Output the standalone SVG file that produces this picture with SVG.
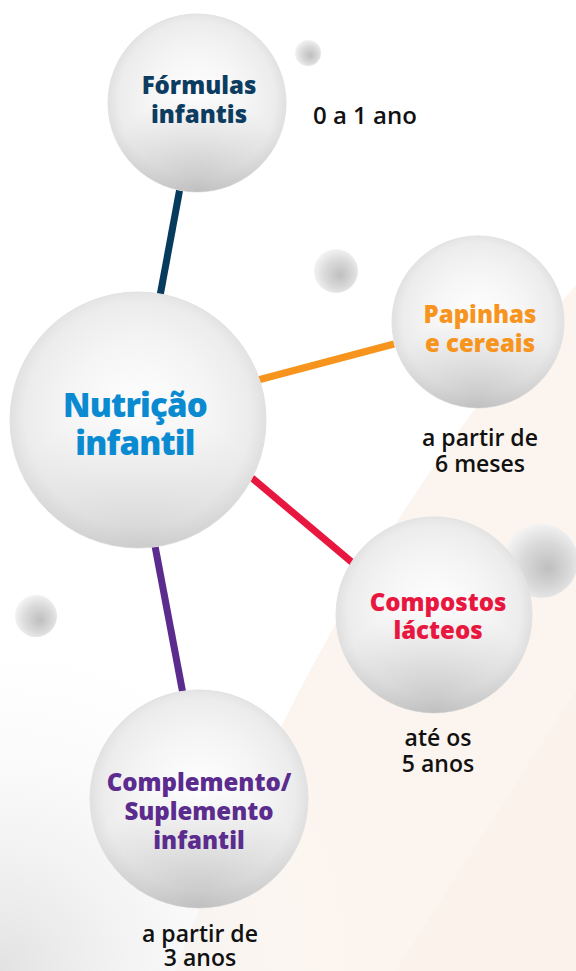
<svg xmlns="http://www.w3.org/2000/svg" width="576" height="971" viewBox="0 0 576 971">
  <defs>
    <radialGradient id="ball" cx="50%" cy="48%" r="55%">
      <stop offset="0" stop-color="#ffffff"/>
      <stop offset="0.5" stop-color="#f5f5f5"/>
      <stop offset="0.8" stop-color="#ececec"/>
      <stop offset="0.93" stop-color="#dedede"/>
      <stop offset="1" stop-color="#e4e4e4"/>
    </radialGradient>
    <radialGradient id="shade" cx="50%" cy="100%" r="55%">
      <stop offset="0" stop-color="#a8a8a8" stop-opacity="0.55"/>
      <stop offset="1" stop-color="#a8a8a8" stop-opacity="0"/>
    </radialGradient>
    <radialGradient id="small" cx="55%" cy="55%" r="55%" fx="60%" fy="60%">
      <stop offset="0" stop-color="#bfbfbf"/>
      <stop offset="0.6" stop-color="#dadada"/>
      <stop offset="1" stop-color="#f2f2f2"/>
    </radialGradient>
    <radialGradient id="corner" cx="0" cy="971" r="360" gradientUnits="userSpaceOnUse">
      <stop offset="0" stop-color="#e2e2e2"/>
      <stop offset="1" stop-color="#ffffff" stop-opacity="0"/>
    </radialGradient>
    <style>
      .sph { fill: url(#ball); stroke: #e2e2e2; stroke-width: 1; }
      .shd { fill: url(#shade); }
      .sm { fill: url(#small); }
      .lbl { font-family: "Open Sans", "Liberation Sans", sans-serif; font-weight: 800; font-size: 24px; text-anchor: middle; }
      .big { font-size: 33px; letter-spacing: -0.8px; }
      .age { font-family: "Open Sans", "Liberation Sans", sans-serif; font-weight: 600; font-size: 23px; fill: #111111; text-anchor: middle; }
      .con { fill: none; stroke-width: 7; stroke-linecap: butt; }
    </style>
  </defs>

  <!-- background -->
  <rect x="0" y="0" width="576" height="971" fill="#ffffff"/>
  <path d="M576,285 Q330,560 175,971 L576,971 Z" fill="#fcf5ef"/>
  <path d="M576,690 L395,971 L576,971 Z" fill="#fbf2eb"/>
  <rect x="0" y="560" width="576" height="411" fill="url(#corner)"/>

  <!-- connectors -->
  <g id="connectors">
    <line class="con" x1="180" y1="188" x2="160" y2="296" stroke="#073b5d"/>
    <line class="con" x1="258" y1="380" x2="394" y2="344" stroke="#f7941d"/>
    <line class="con" x1="252" y1="478" x2="354" y2="564" stroke="#e8173f"/>
    <line class="con" x1="155" y1="546" x2="183" y2="694" stroke="#5b2c8e"/>
  </g>

  <!-- decorative small spheres -->
  <circle class="sm" cx="308" cy="53" r="13"/>
  <circle class="sm" cx="336" cy="271" r="22"/>
  <circle class="sm" cx="36" cy="616" r="21"/>
  <circle class="sm" cx="541" cy="561" r="37"/>

  <g id="formulas">
    <circle class="sph" cx="197" cy="103" r="89"/>
    <circle class="shd" cx="197" cy="103" r="89"/>
    <text class="lbl" x="199" y="94" fill="#0d3c61">Fórmulas</text>
    <text class="lbl" x="199" y="123" fill="#0d3c61">infantis</text>
    <text class="age" x="313" y="124" style="text-anchor:start;font-size:24px">0 a 1 ano</text>
  </g>

  <g id="nutricao">
    <circle class="sph" cx="138" cy="420" r="128"/>
    <circle class="shd" cx="138" cy="420" r="128" opacity="0.6"/>
    <text class="lbl big" x="135" y="417" fill="#0a8bd1">Nutrição</text>
    <text class="lbl big" x="135" y="455" fill="#0a8bd1">infantil</text>
  </g>

  <g id="papinhas">
    <circle class="sph" cx="478" cy="322" r="86"/>
    <circle class="shd" cx="478" cy="322" r="86"/>
    <text class="lbl" x="480" y="323" fill="#f7941d">Papinhas</text>
    <text class="lbl" x="480" y="352" fill="#f7941d">e cereais</text>
    <text class="age" x="480" y="446">a partir de</text>
    <text class="age" x="480" y="472">6 meses</text>
  </g>

  <g id="compostos">
    <circle class="sph" cx="434" cy="615" r="98"/>
    <circle class="shd" cx="434" cy="615" r="98"/>
    <text class="lbl" x="438" y="611" fill="#e8173f">Compostos</text>
    <text class="lbl" x="438" y="639" fill="#e8173f">lácteos</text>
    <text class="age" x="438" y="746">até os</text>
    <text class="age" x="438" y="772">5 anos</text>
  </g>

  <g id="complemento">
    <circle class="sph" cx="199" cy="799" r="109"/>
    <circle class="shd" cx="199" cy="799" r="109"/>
    <text class="lbl" x="199" y="791" fill="#5b2c8e">Complemento/</text>
    <text class="lbl" x="199" y="820" fill="#5b2c8e">Suplemento</text>
    <text class="lbl" x="199" y="849" fill="#5b2c8e">infantil</text>
    <text class="age" x="200" y="942">a partir de</text>
    <text class="age" x="200" y="966">3 anos</text>
  </g>
</svg>
